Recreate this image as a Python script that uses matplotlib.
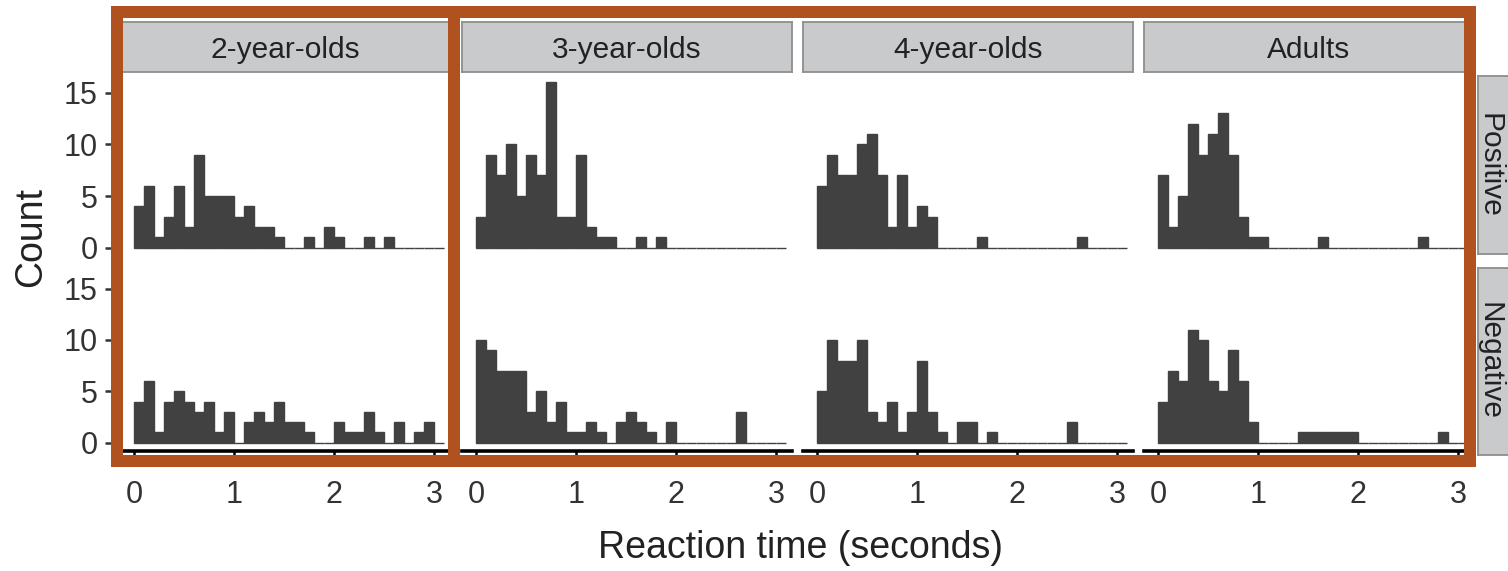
import numpy as np
import matplotlib
matplotlib.use("Agg")
import matplotlib.pyplot as plt
from matplotlib.patches import Rectangle

plt.rcParams['font.family'] = ['Liberation Sans', 'DejaVu Sans']

# ---- data ----
groups = ["2-year-olds", "3-year-olds", "4-year-olds", "Adults"]
valences = ["Positive", "Negative"]
bin_width = 0.1
bin_edges = np.round(np.arange(0, 3.1 + 1e-9, bin_width), 2)   # 31 bins: 0.0 .. 3.1

pos_2yo = [4, 6, 1, 3, 6, 2, 9, 5, 5, 5, 3, 4, 2, 2, 1, 0, 0, 1, 0, 2, 1, 0, 0, 1, 0, 1, 0, 0, 0, 0, 0]
neg_2yo = [4, 6, 1, 4, 5, 4, 3, 4, 1, 3, 0, 2, 3, 2, 4, 2, 2, 1, 0, 0, 2, 1, 1, 3, 1, 0, 2, 0, 1, 2, 0]
pos_3yo = [3, 9, 7, 10, 5, 9, 7, 16, 3, 3, 9, 2, 1, 1, 0, 0, 1, 0, 1, 0, 0, 0, 0, 0, 0, 0, 0, 0, 0, 0, 0]
neg_3yo = [10, 9, 7, 7, 7, 3, 5, 2, 4, 1, 1, 2, 1, 0, 2, 3, 2, 1, 0, 2, 0, 0, 0, 0, 0, 0, 3, 0, 0, 0, 0]
pos_4yo = [6, 9, 7, 7, 10, 11, 7, 2, 7, 2, 4, 3, 0, 0, 0, 0, 1, 0, 0, 0, 0, 0, 0, 0, 0, 0, 1, 0, 0, 0, 0]
neg_4yo = [5, 10, 8, 8, 10, 3, 2, 4, 1, 3, 8, 3, 1, 0, 2, 2, 0, 1, 0, 0, 0, 0, 0, 0, 0, 2, 0, 0, 0, 0, 0]
pos_adult = [7, 2, 5, 12, 9, 11, 13, 9, 3, 1, 1, 0, 0, 0, 0, 0, 1, 0, 0, 0, 0, 0, 0, 0, 0, 0, 1, 0, 0, 0, 0]
neg_adult = [4, 7, 6, 11, 10, 6, 5, 9, 6, 2, 0, 0, 0, 0, 1, 1, 1, 1, 1, 1, 0, 0, 0, 0, 0, 0, 0, 0, 1, 0, 0]

counts = {
    ("Positive", "2-year-olds"): pos_2yo, ("Negative", "2-year-olds"): neg_2yo,
    ("Positive", "3-year-olds"): pos_3yo, ("Negative", "3-year-olds"): neg_3yo,
    ("Positive", "4-year-olds"): pos_4yo, ("Negative", "4-year-olds"): neg_4yo,
    ("Positive", "Adults"): pos_adult, ("Negative", "Adults"): neg_adult,
}
x_ticks = [0, 1, 2, 3]
y_ticks = [0, 5, 10, 15]

# ---- layout (pixels) ----
W, H = 1508, 571
fig = plt.figure(figsize=(W / 100, H / 100), dpi=100)


def rect(x0, y0, x1, y1):
    return [x0 / W, 1 - y1 / H, (x1 - x0) / W, (y1 - y0) / H]


cols_x = [(120, 450), (462, 792), (803, 1133), (1144, 1474)]
rows_y = [(74, 256), (270, 451)]
strip_face = '#C9CACC'
strip_edge = '#8E8E8E'
bar_color = '#414141'
tick_fs = 22
strip_fs = 21.5
title_fs = 27

for r, val in enumerate(valences):
    for c, grp in enumerate(groups):
        x0, x1 = cols_x[c]
        y0, y1 = rows_y[r]
        ax = fig.add_axes(rect(x0, y0, x1, y1))
        ax.bar(bin_edges[:-1], counts[(val, grp)], width=bin_width, align='edge',
               color=bar_color, edgecolor=bar_color, linewidth=1.0)
        ax.set_xlim(-0.14, 3.16)
        ax.set_ylim(-0.8, 16.8)
        for s in ['top', 'right']:
            ax.spines[s].set_visible(False)
        ax.spines['left'].set_visible(c == 0)
        ax.spines['bottom'].set_visible(r == 1)
        ax.spines['left'].set_linewidth(2.2)
        ax.spines['bottom'].set_linewidth(2.6)
        ax.spines['left'].set_color('black')
        ax.spines['bottom'].set_color('black')
        if r == 1:
            ax.set_xticks(x_ticks)
            ax.set_xticklabels([str(t) for t in x_ticks], fontsize=tick_fs, color='#333333')
            ax.tick_params(axis='x', length=4, width=1.8, pad=17, color='black')
        else:
            ax.set_xticks([])
        if c == 0:
            ax.set_yticks(y_ticks)
            ax.set_yticklabels([str(t) for t in y_ticks], fontsize=tick_fs, color='#333333')
            ax.tick_params(axis='y', length=11, width=1.8, pad=5, color='#333333')
        else:
            ax.set_yticks([])
        ax.patch.set_alpha(0)

# top strips
for c, grp in enumerate(groups):
    x0, x1 = cols_x[c]
    sax = fig.add_axes(rect(x0, 22, x1, 72))
    sax.set_facecolor(strip_face)
    sax.set_xticks([]); sax.set_yticks([])
    for s in sax.spines.values():
        s.set_color(strip_edge); s.set_linewidth(1.3)
    sax.text(0.5, 0.44, grp, ha='center', va='center', fontsize=strip_fs,
             color='#222222', transform=sax.transAxes)

# right strips
right_rows = [(76, 254), (268, 455)]
for r, val in enumerate(valences):
    y0, y1 = right_rows[r]
    sax = fig.add_axes(rect(1478, y0, 1540, y1))
    sax.set_facecolor(strip_face)
    sax.set_xticks([]); sax.set_yticks([])
    for s in sax.spines.values():
        s.set_color(strip_edge); s.set_linewidth(1.3)
    fig.text(1489 / W, 1 - (y0 + y1) / 2 / H, val, ha='center', va='center',
             fontsize=strip_fs, rotation=-90, color='#222222')

# axis titles
fig.text(800 / W, 1 - 548 / H, "Reaction time (seconds)", ha='center', va='center',
         fontsize=title_fs, color='#222222')
fig.text(31 / W, 1 - 237 / H, "Count", ha='center', va='center', rotation=90,
         fontsize=title_fs, color='#222222')

# orange highlight boxes
orange = '#B0521F'
lw_pt = 12 * 72 / 100
for (bx0, by0, bx1, by1) in [(116.5, 12, 453.5, 461), (453.5, 12, 1470, 461)]:
    rr = Rectangle((bx0 / W, 1 - by1 / H), (bx1 - bx0) / W, (by1 - by0) / H,
                   transform=fig.transFigure, fill=False, edgecolor=orange,
                   linewidth=lw_pt, joinstyle='miter', zorder=10)
    fig.add_artist(rr)

fig.savefig("out.png", dpi=100)
